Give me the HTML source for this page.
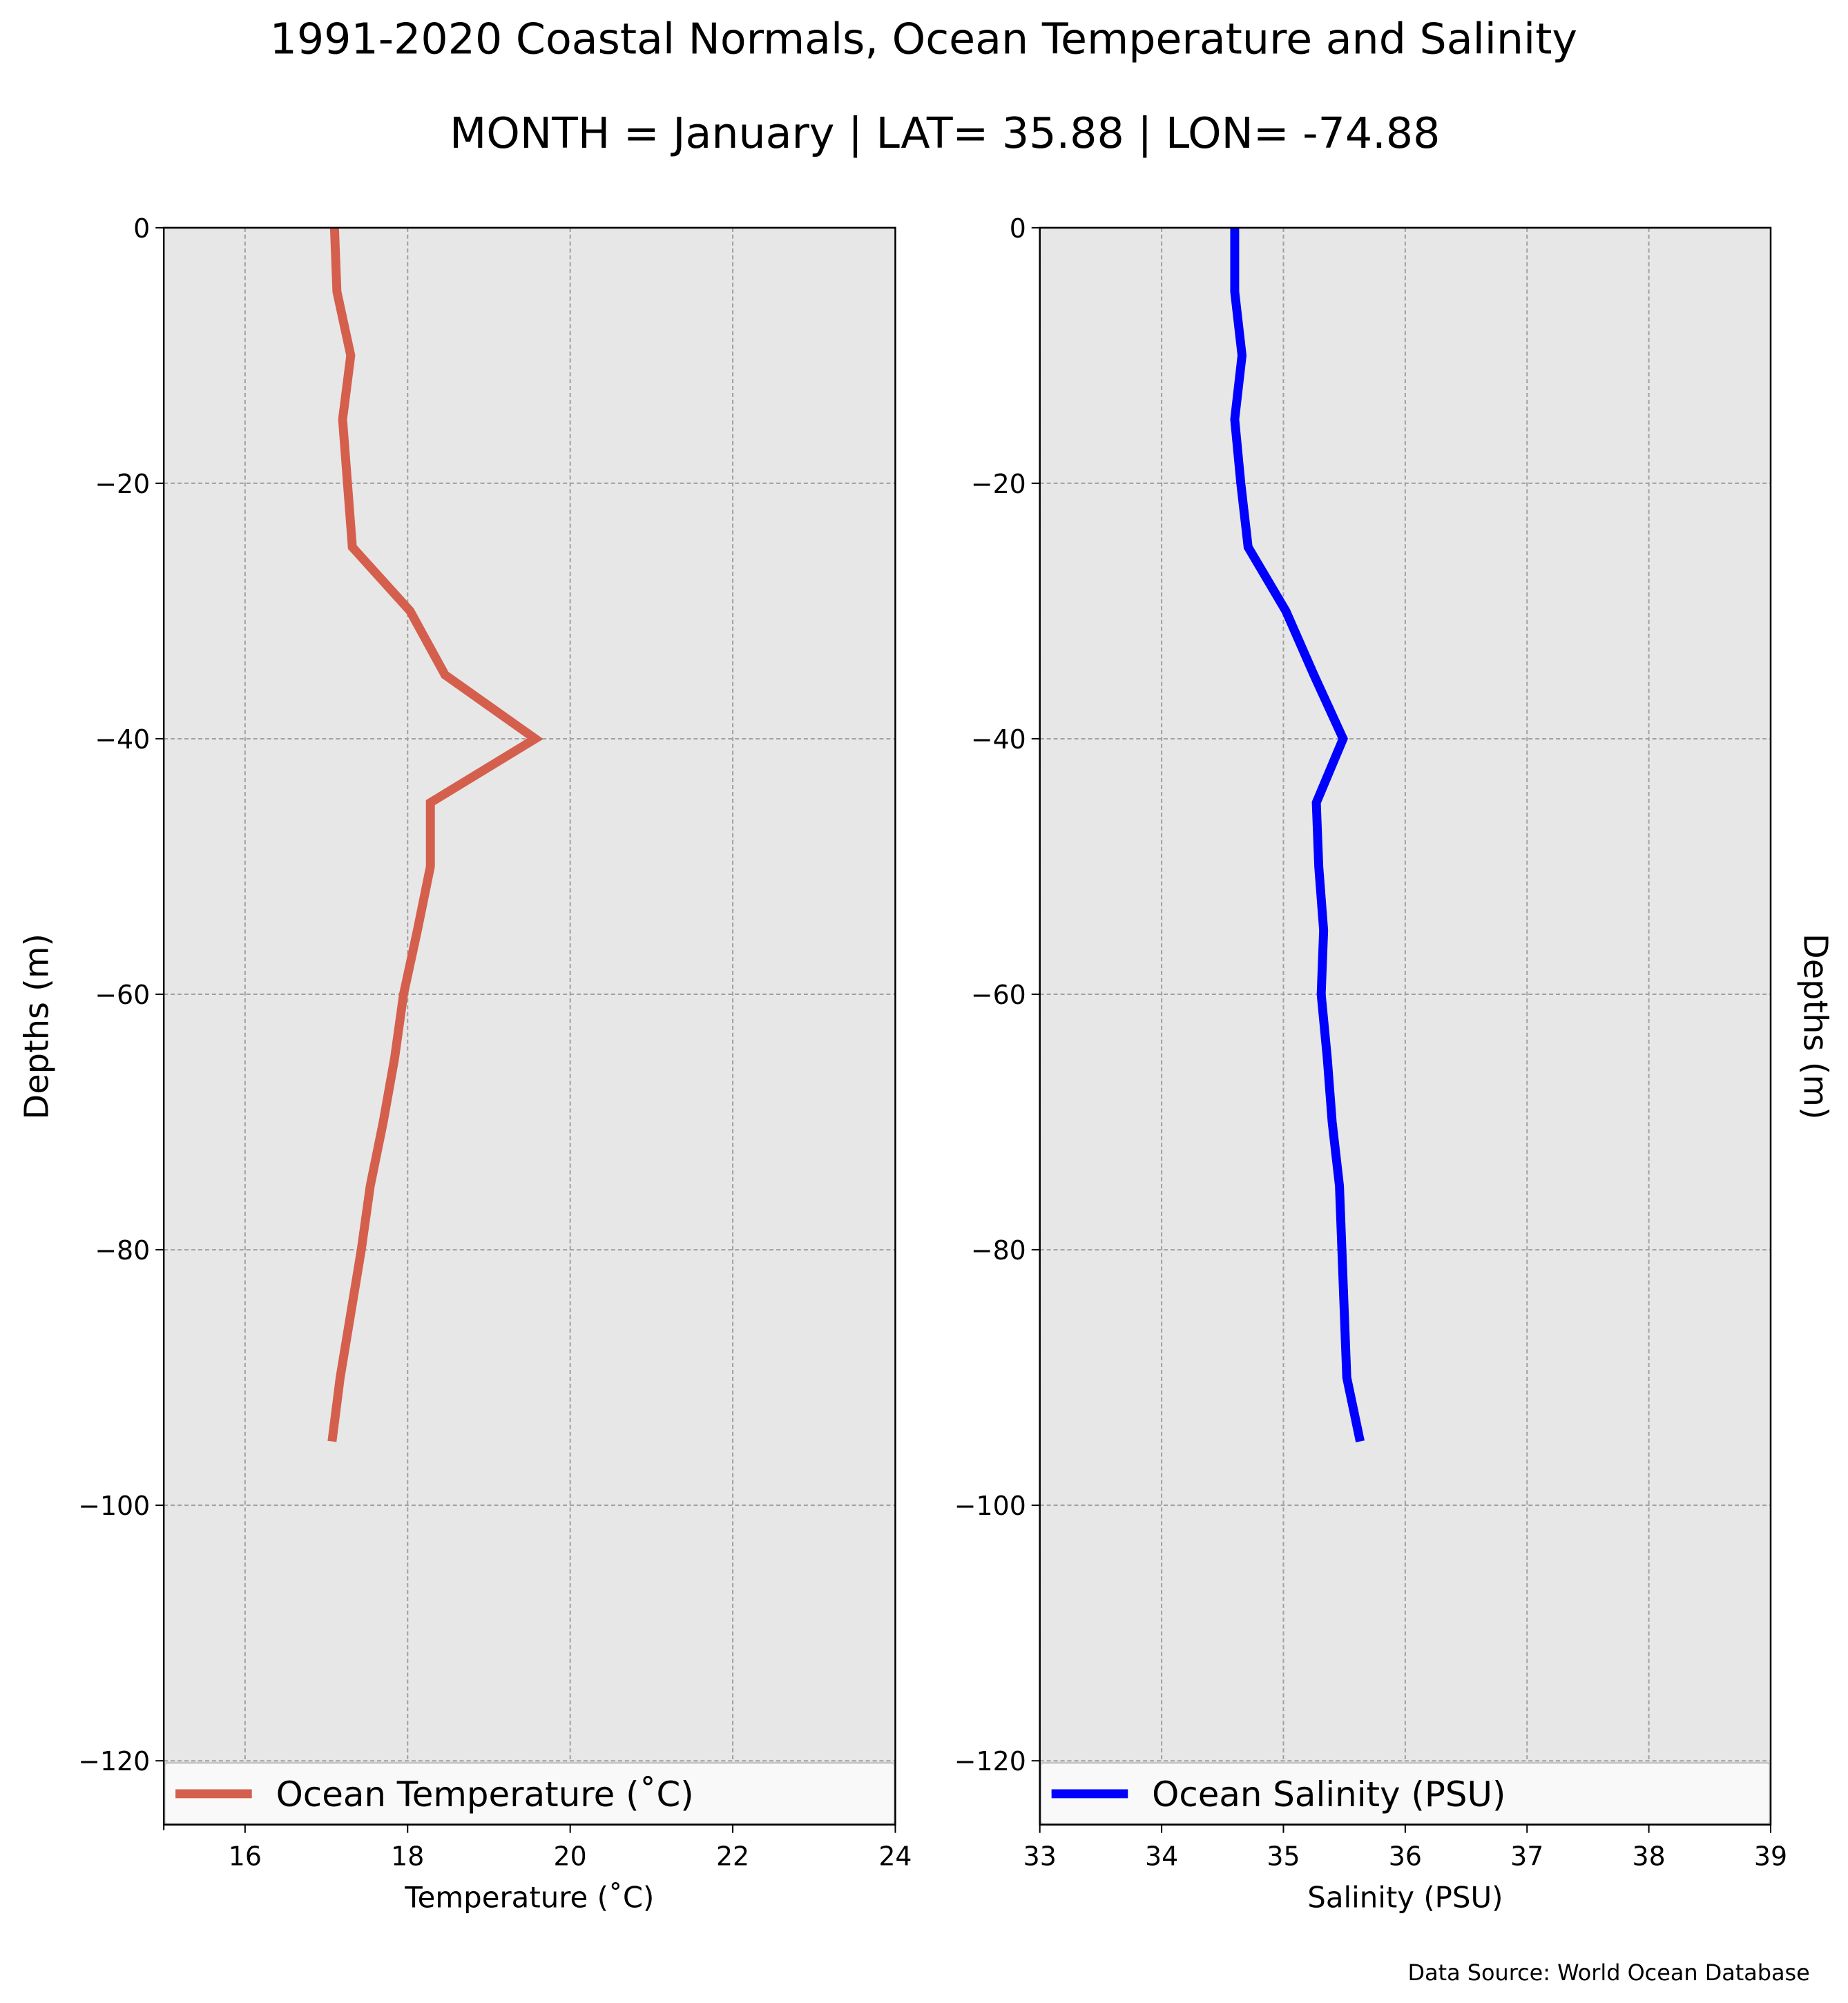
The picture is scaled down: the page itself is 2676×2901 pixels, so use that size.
<!DOCTYPE html>
<html><head><meta charset="utf-8"><style>
html,body{margin:0;padding:0;background:#fff}
svg{display:block;font-family:"DejaVu Sans","Liberation Sans",sans-serif}
</style></head><body>
<svg id="fig" width="2676" height="2901" viewBox="0 0 2676 2901" xmlns="http://www.w3.org/2000/svg">
<g transform="scale(0.9965)">
<text x="1342" y="78" text-anchor="middle" font-size="62" fill="#000">1991-2020 Coastal Normals, Ocean Temperature and Salinity</text>
<text x="1373" y="215" text-anchor="middle" font-size="62" fill="#000">MONTH = January | LAT= 35.88 | LON= -74.88</text>
<g id="left"></g>
<g id="right"></g>
<text x="2630" y="2878" text-anchor="end" font-size="32" fill="#000">Data Source: World Ocean Database</text>
</g>
</svg>
<script>
const depths = [0,-5,-10,-15,-20,-25,-30,-35,-40,-45,-50,-55,-60,-65,-70,-75,-80,-85,-90,-95];
const temperature = [17.1,17.13,17.3,17.2,17.26,17.32,18.03,18.46,19.57,18.28,18.28,18.12,17.95,17.84,17.7,17.54,17.43,17.3,17.17,17.07];
const salinity = [34.6,34.6,34.66,34.6,34.65,34.71,35.02,35.25,35.49,35.27,35.29,35.33,35.31,35.36,35.4,35.46,35.48,35.5,35.52,35.63];
const yTicks = [0,-20,-40,-60,-80,-100,-120];
const tempTicks = [16,18,20,22,24];
const salTicks = [33,34,35,36,37,38,39];
const NS='http://www.w3.org/2000/svg';
const TOP=331, BOT=2652, YMIN=-125, YMAX=0;
function yS(v){return TOP+(YMAX-v)/(YMAX-YMIN)*(BOT-TOP);}
function mk(p,tag,a){const e=document.createElementNS(NS,tag);for(const k in a)e.setAttribute(k,a[k]);p.appendChild(e);return e;}
function panel(g,x0,x1,xmin,xmax,xticks,vals,color,legendText,xlabel,rightLabel,extraTick){
  const xS=v=>x0+(v-xmin)/(xmax-xmin)*(x1-x0);
  const bg=mk(g,'rect',{x:x0,y:TOP,width:x1-x0,height:BOT-TOP,fill:'#e7e7e7'});
  
  
  yTicks.forEach(t=>{
    const y=yS(t);
    const gl=mk(g,'line',{x1:x0,x2:x1,y1:y,y2:y,stroke:'#a0a0a0','stroke-width':2,'stroke-dasharray':'6,4'});
    
    
    mk(g,'line',{x1:x0-12,x2:x0,y1:y,y2:y,stroke:'#000','stroke-width':2});
    const lb=mk(g,'text',{x:x0-20,y:y+14,'text-anchor':'end','font-size':38});
    lb.textContent=t<0?'\u2212'+(-t):String(t);
    
    
  });
  xticks.forEach(t=>{
    const x=xS(t);
    const gl=mk(g,'line',{x1:x,x2:x,y1:TOP,y2:BOT,stroke:'#a0a0a0','stroke-width':2,'stroke-dasharray':'6,4'});
    
    
    mk(g,'line',{x1:x,x2:x,y1:BOT,y2:BOT+12,stroke:'#000','stroke-width':2});
    const lb=mk(g,'text',{x:x,y:2711,'text-anchor':'middle','font-size':38});
    lb.textContent=String(t);
    
    
  });
  if(extraTick) mk(g,'line',{x1:x0,x2:x0,y1:BOT,y2:BOT+8,stroke:'#000','stroke-width':2});
  const pts=vals.map((v,i)=>xS(v)+','+yS(depths[i])).join(' ');
  const ln=mk(g,'polyline',{points:pts,fill:'none',stroke:color,'stroke-width':13,'stroke-linejoin':'miter'});
  
  
  const lg=mk(g,'g',{});
  
  
  const ly0=yS(-120)+3;
  mk(lg,'rect',{x:x0+1,y:ly0,width:x1-x0-2,height:BOT-ly0-1,fill:'#f9f9f9',stroke:'#c8c8c8','stroke-width':3,rx:4});
  const lc=(ly0+BOT)/2;
  mk(lg,'line',{x1:x0+17,x2:x0+128,y1:lc,y2:lc,stroke:color,'stroke-width':13});
  const lt=mk(lg,'text',{x:x0+163,y:lc+18,'font-size':50});
  lt.textContent=legendText;
  
  
  mk(g,'rect',{x:x0,y:TOP,width:x1-x0,height:BOT-TOP,fill:'none',stroke:'#000','stroke-width':2.5});
  const xl=mk(g,'text',{x:(x0+x1)/2,y:2772,'text-anchor':'middle','font-size':42});
  xl.textContent=xlabel;
  
  
  const lx=rightLabel?2637:54, rot=rightLabel?90:-90;
  const yl=mk(g,'text',{x:lx,y:1492,'text-anchor':'middle','dominant-baseline':'central','font-size':48,transform:`rotate(${rot} ${lx} 1492)`});
  yl.textContent='Depths (m)';
  
  
}
panel(document.getElementById('left'),238,1301,15,24,tempTicks,temperature,'#d55f4d','Ocean Temperature (\u02DAC)','Temperature (\u02DAC)',false,true);
panel(document.getElementById('right'),1511,2573,33,39,salTicks,salinity,'#0000ff','Ocean Salinity (PSU)','Salinity (PSU)',true,false);
</script>
</body></html>
